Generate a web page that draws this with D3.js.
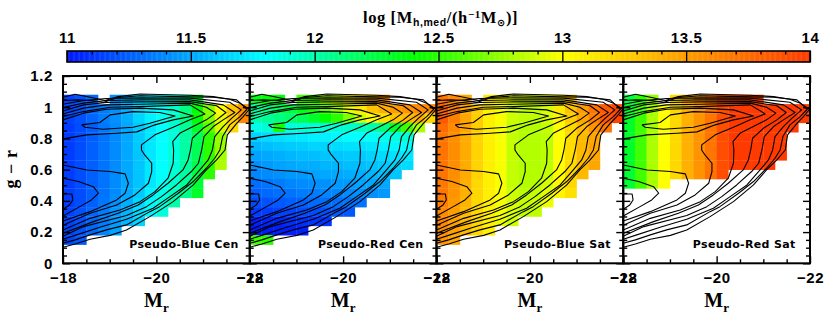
<!DOCTYPE html>
<html>
<head>
<meta charset="utf-8">
<script src="https://d3js.org/d3.v7.min.js"></script>
<style>
  html, body {margin: 0; padding: 0; background: #fff;}
  svg {display: block;}
  .tick text {font-family: "Liberation Sans", sans-serif; font-weight: bold; font-size: 15px; letter-spacing: 0.6px; fill: #000;}
</style>
</head>
<body>
<svg id="plot1" width="830" height="318"></svg>
<script>
var panelNames = ["Pseudo-Blue Cen", "Pseudo-Red Cen", "Pseudo-Blue Sat", "Pseudo-Red Sat"];

// median halo mass per bin, rows run from the top (g-r 1.02-1.08) down, columns from Mr=-18 to -22
var blueCen = [
  [11.15,11.2,11.28,null,11.42,11.52,11.65,11.75,11.82,11.92,12.05,12.3],
  [11.15,11.2,11.28,11.35,11.42,11.52,11.65,11.75,11.82,11.92,12.1,12.4,12.7,13.0,13.3,13.55],
  [11.15,11.2,11.27,11.35,11.42,11.52,11.65,11.75,11.82,11.92,12.1,12.4,12.7,12.95,13.25,13.6],
  [11.12,11.18,11.25,11.33,11.4,11.5,11.62,11.72,11.8,11.9,12.05,12.3,12.6,12.9,13.2],
  [11.12,11.18,11.25,11.32,11.4,11.5,11.62,11.72,11.8,11.88,12.02,12.2,12.5,12.75],
  [11.12,11.18,11.25,11.32,11.4,11.5,11.62,11.72,11.8,11.88,12.02,12.2,12.5,12.75],
  [11.12,11.18,11.25,11.32,11.4,11.5,11.6,11.72,11.8,11.88,12.02,12.2,12.5,12.78],
  [11.12,11.18,11.25,11.32,11.4,11.5,11.6,11.72,11.8,11.88,12.02,12.22,12.5,12.8],
  [11.12,11.18,11.25,11.32,11.4,11.5,11.6,11.72,11.8,11.9,12.02,12.25,12.5],
  [11.12,11.18,11.25,11.32,11.4,11.5,11.6,11.72,11.82,11.92,12.05,12.28],
  [11.13,11.18,11.25,11.32,11.4,11.5,11.62,11.75,11.85,11.95,12.08,12.3],
  [11.13,11.18,11.25,11.33,11.42,11.52,11.65,11.78,11.88,12.0],
  [11.15,11.2,11.27,11.35,11.44,11.55,11.68,11.78,11.88],
  [11.15,11.2,11.28,11.35,11.45,11.55,11.65],
  [11.15,11.2,11.28,11.38,11.48],
  [11.15,11.22]
];
var redCen = [
  [12.35,12.4,12.4,null,12.55,12.6,12.75,12.85,13.0,13.2,13.4,13.55],
  [12.05,12.1,12.2,12.25,12.35,12.45,12.6,12.75,12.95,13.1,13.3,13.4,13.5,13.55,13.6,13.6],
  [12.0,12.05,12.1,12.15,12.2,12.3,12.4,12.5,12.7,12.9,13.0,13.15,13.3,13.35,13.4,13.2],
  [11.85,11.9,12.45,11.88,11.9,11.9,11.9,11.9,11.92,11.95,12.0,12.1,12.3,12.55,12.8],
  [11.65,11.68,11.7,11.72,11.73,11.75,11.75,11.78,11.8,11.8,11.82,11.85,11.88,11.9],
  [11.55,11.58,11.6,11.62,11.63,11.65,11.65,11.68,11.7,11.7,11.72,11.75,11.78,11.8],
  [11.48,11.5,11.52,11.55,11.57,11.58,11.6,11.6,11.62,11.62,11.65,11.68,11.7,11.72],
  [11.42,11.45,11.48,11.5,11.52,11.52,11.55,11.55,11.58,11.58,11.6,11.62,11.65,11.68],
  [11.38,11.4,11.42,11.45,11.45,11.48,11.5,11.5,11.52,11.52,11.55,11.58,11.6],
  [11.3,11.32,11.35,11.38,11.4,11.42,11.42,11.45,11.45,11.48,11.5,11.5],
  [11.25,11.28,11.3,11.32,11.35,11.35,11.38,11.38,11.4,11.42,11.42,11.45],
  [11.18,11.2,11.22,11.25,11.25,11.28,11.3,11.3,11.32,11.32],
  [11.12,11.12,11.15,11.15,11.18,11.18,11.2,11.22,11.22],
  [11.03,11.05,11.05,11.08,11.08,11.1,11.1],
  [11.0,11.0,11.02,11.02,11.03],
  [12.55,12.5]
];
var blueSat = [
  [13.7,13.6,13.45,null,13.1,13.02,12.92,12.88,12.88,12.95,13.1,13.3],
  [13.8,13.65,13.45,13.25,13.08,12.98,12.88,12.84,12.84,12.9,13.1,13.3,13.5,13.7,13.85,13.95],
  [13.85,13.65,13.45,13.25,13.08,12.98,12.88,12.84,12.84,12.9,13.05,13.25,13.45,13.65,13.85,13.95],
  [13.75,13.6,13.45,13.25,13.08,12.98,12.86,12.82,12.82,12.86,13.02,13.2,13.35,13.55,13.7],
  [13.7,13.58,13.42,13.22,13.08,12.98,12.86,12.82,12.82,12.84,13.0,13.18,13.35,13.45],
  [13.7,13.58,13.42,13.22,13.08,12.98,12.86,12.82,12.82,12.84,13.0,13.18,13.35,13.45],
  [13.7,13.58,13.42,13.22,13.08,12.98,12.86,12.82,12.82,12.84,13.0,13.18,13.35,13.45],
  [13.7,13.58,13.42,13.22,13.08,12.98,12.86,12.82,12.82,12.84,13.0,13.18,13.35,13.45],
  [13.7,13.58,13.42,13.22,13.08,12.98,12.86,12.82,12.82,12.86,13.02,13.2,13.35],
  [13.68,13.55,13.4,13.2,13.08,12.98,12.86,12.82,12.82,12.9,13.05,13.2],
  [13.68,13.55,13.4,13.2,13.08,12.98,12.88,12.84,12.86,12.94,13.05,13.15],
  [13.65,13.52,13.38,13.2,13.08,12.98,12.9,12.86,12.88,12.96],
  [13.6,13.5,13.35,13.2,13.08,12.98,12.9,12.85,12.85],
  [13.6,13.48,13.35,13.2,13.08,12.96,12.88],
  [13.58,13.48,13.35,13.2,13.08],
  [13.55,13.45]
];
var redSat = [
  [12.25,12.5,12.75,null,13.2,13.4,13.55,13.7,13.9,14,14,14],
  [12.3,12.55,12.8,13.0,13.2,13.4,13.55,13.7,13.9,14,14,14,14,14,14,14],
  [12.3,12.55,12.8,13.0,13.2,13.4,13.55,13.7,13.9,14,14,14,14,14,14,14],
  [12.3,12.55,12.8,13.0,13.2,13.4,13.55,13.7,13.9,14,14,14,14,14,14],
  [12.3,12.55,12.8,13.0,13.2,13.4,13.55,13.7,13.9,14,14,14,14,14],
  [12.3,12.55,12.8,13.0,13.2,13.4,13.55,13.7,13.9,14,14,14,14,14],
  [12.3,12.55,12.8,13.0,13.2,13.4,13.55,13.7,13.9,14,14,14,14,14],
  [12.3,12.55,12.8,13.0,13.2,13.4,13.55,13.7,13.9,14,14,14,14],
  [12.28,12.55,12.8,13.0,13.2,13.4,13.55,13.72,13.9],
  [12.28,12.55,12.8,13.0]
];
var panelGrids = [blueCen, redCen, blueSat, redSat];

// same galaxy-density contours in all panels, [Mr, g-r]
var contours = [
  [[-18,.444],[-18.19,.444],[-18.21,.406],[-18.14,.374],[-18,.346]],
  [[-18,.545],[-18.33,.524],[-18.65,.491],[-18.76,.449],[-18.61,.406],[-18.36,.363],[-18,.303]],
  [[-18,.63],[-18.51,.598],[-19.01,.588],[-19.33,.573],[-19.40,.513],[-19.33,.449],[-19.15,.406],[-18.58,.331],[-18,.271]],
  [[-18.40,.887],[-18.79,.902],[-19.01,.951],[-19.50,.972],[-20.07,.966],[-20.40,.944],[-19.86,.897],[-19.50,.872],[-18.86,.859],[-18.47,.872],[-18.40,.887]],
  [[-18,.797],[-18.51,.823],[-19.15,.833],[-19.58,.842],[-19.97,.887],[-20.36,.919],[-20.79,.944],[-20.36,.983],[-19.65,.994],[-18.93,.987],[-18.44,.962],[-18,.919]],
  [[-18,.244],[-18.58,.321],[-19.15,.374],[-19.54,.438],[-19.83,.513],[-19.90,.588],[-19.90,.641],[-19.75,.694],[-19.68,.726],[-19.68,.759],[-19.97,.823],[-20.36,.872],[-20.72,.919],[-21.04,.957],[-20.72,1.015],[-19.65,1.004],[-19.01,1.0],[-18.44,.972],[-18,.94]],
  [[-18,.214],[-18.58,.288],[-19.22,.342],[-19.65,.395],[-19.97,.459],[-20.25,.545],[-20.36,.641],[-20.37,.726],[-20.35,.78],[-20.50,.833],[-20.86,.887],[-21.07,.919],[-21.27,.962],[-21.07,1.0],[-20.72,1.026],[-19.65,1.019],[-18.93,1.015],[-18.44,.994],[-18,.957]],
  [[-18,.192],[-18.65,.267],[-19.18,.321],[-19.61,.374],[-19.93,.438],[-20.25,.513],[-20.57,.598],[-20.68,.662],[-20.73,.726],[-20.77,.801],[-21.0,.865],[-21.29,.919],[-21.49,.966],[-21.29,1.009],[-20.72,1.036],[-19.65,1.034],[-18.93,1.03],[-18.44,1.015],[-18,.976]],
  [[-18,.173],[-18.44,.235],[-19.36,.306],[-19.79,.363],[-20.11,.427],[-20.43,.502],[-20.75,.588],[-20.90,.641],[-20.97,.726],[-21.02,.812],[-21.22,.876],[-21.43,.919],[-21.68,.966],[-21.43,1.015],[-20.72,1.047],[-19.65,1.047],[-18.93,1.043],[-18.44,1.026],[-18,.998]],
  [[-18,.154],[-18.29,.182],[-18.79,.231],[-19.36,.282],[-19.93,.353],[-20.29,.427],[-20.65,.502],[-20.93,.598],[-21.11,.662],[-21.20,.726],[-21.25,.812],[-21.43,.876],[-21.61,.929],[-21.82,.983],[-21.57,1.032],[-20.72,1.058],[-19.65,1.06],[-18.93,1.056],[-18.44,1.043],[-18,1.019]],
  [[-18,.128],[-18.26,.15],[-18.58,.182],[-18.93,.214],[-19.36,.246],[-19.86,.331],[-20.07,.363],[-20.47,.449],[-20.79,.524],[-21.07,.609],[-21.25,.673],[-21.36,.726],[-21.42,.812],[-21.57,.887],[-21.79,.94],[-21.94,.987],[-21.72,1.047],[-21.22,1.064],[-20.72,1.066],[-19.65,1.073],[-19.18,1.062],[-18.86,1.03],[-18.61,1.043],[-18.29,1.047],[-18,1.043]],
  [[-18,.103],[-18.26,.124],[-18.58,.154],[-19.01,.179],[-19.36,.214],[-19.86,.299],[-20.36,.395],[-20.79,.502],[-21.07,.598],[-21.29,.662],[-21.47,.726],[-21.52,.823],[-21.72,.897],[-21.86,.94],[-21.99,.987],[-21.79,1.026],[-21.57,1.051],[-21.22,1.068],[-20.72,1.077],[-20.07,1.081],[-19.65,1.085],[-19.18,1.068],[-18.90,1.043],[-18.61,1.062],[-18.26,1.083],[-18,1.064]]
];

var xMajor = [-18, -20, -22],
    xMinor = [-18.5, -19, -19.5, -20.5, -21, -21.5],
    yMajor = [0, 0.2, 0.4, 0.6, 0.8, 1, 1.2],
    yMinor = [0.05, 0.1, 0.15, 0.25, 0.3, 0.35, 0.45, 0.5, 0.55, 0.65, 0.7, 0.75, 0.85, 0.9, 0.95, 1.05, 1.1, 1.15],
    barMajor = [11, 11.5, 12, 12.5, 13, 13.5, 14],
    barMinor = [11.1, 11.2, 11.3, 11.4, 11.6, 11.7, 11.8, 11.9, 12.1, 12.2, 12.3, 12.4, 12.6, 12.7, 12.8, 12.9, 13.1, 13.2, 13.3, 13.4, 13.6, 13.7, 13.8, 13.9],
    colorStops = [11, 11.8, 12.4, 13, 14],
    colorValues = ["#0018ff", "#00ffff", "#00ff00", "#ffff00", "#ff3a00"];

var binM = 0.25, binG = 0.06, topG = 1.08;

var svg = d3.select("#plot1"),
    margin = {top: 76, left: 63},
    panelW = 186.75,
    panelH = 187.3;

var x = d3.scaleLinear().domain([-18, -22]).range([0, panelW]),
    y = d3.scaleLinear().domain([0, 1.2]).range([panelH, 0]),
    color = d3.scaleLinear().domain(colorStops).range(colorValues).clamp(true);

var line = d3.line().x(function(d){return x(d[0]);}).y(function(d){return y(d[1]);});

// signed labels use a real minus so they match the wide dash in the picture
function mFormat(d){ return "\u2212" + Math.abs(d); }

panelGrids.forEach(function(grid, p){
  var g = svg.append("g")
      .attr("transform", "translate(" + (margin.left + p*panelW) + "," + margin.top + ")");

  grid.forEach(function(row, r){
    g.selectAll(".cell" + r)
        .data(row.map(function(v, c){ return {v: v, c: c}; }).filter(function(d){ return d.v !== null; }))
        .enter()
        .append("rect")
        .attr("x", function(d){ return x(-18 - d.c*binM); })
        .attr("y", y(topG - r*binG))
        .attr("width", x(-18 - binM) - x(-18) + 0.3)
        .attr("height", y(0) - y(binG) + 0.3)
        .attr("fill", function(d){ return color(d.v); });
  });

  g.selectAll(".contour")
      .data(contours)
      .enter()
      .append("path")
      .attr("d", line)
      .attr("fill", "none")
      .attr("stroke", "#000")
      .attr("stroke-width", 1.1)
      .attr("stroke-linejoin", "round");

  // ticks point inwards on all four sides
  var axes = [
    {a: d3.axisBottom(x).tickValues(xMajor).tickSize(-7).tickPadding(9).tickFormat(mFormat), t: "translate(0," + panelH + ")"},
    {a: d3.axisBottom(x).tickValues(xMinor).tickSize(-4).tickFormat(""), t: "translate(0," + panelH + ")"},
    {a: d3.axisTop(x).tickValues(xMajor).tickSize(-7).tickFormat(""), t: "translate(0,0)"},
    {a: d3.axisTop(x).tickValues(xMinor).tickSize(-4).tickFormat(""), t: "translate(0,0)"},
    {a: d3.axisLeft(y).tickValues(yMajor).tickSize(-7).tickPadding(10).tickFormat(p == 0 ? function(d){ return d; } : ""), t: "translate(0,0)"},
    {a: d3.axisLeft(y).tickValues(yMinor).tickSize(-4).tickFormat(""), t: "translate(0,0)"},
    {a: d3.axisRight(y).tickValues(yMajor).tickSize(-7).tickFormat(""), t: "translate(" + panelW + ",0)"},
    {a: d3.axisRight(y).tickValues(yMinor).tickSize(-4).tickFormat(""), t: "translate(" + panelW + ",0)"}
  ];
  axes.forEach(function(d){
    var ax = g.append("g").attr("transform", d.t).call(d.a);
    ax.select(".domain").remove();
    ax.selectAll("line").attr("stroke", "#000").attr("stroke-width", 1.4);
  });

  g.append("rect")
      .attr("width", panelW)
      .attr("height", panelH)
      .attr("fill", "none")
      .attr("stroke", "#000")
      .attr("stroke-width", 2);

  g.append("text")
      .attr("x", 121)
      .attr("y", 172)
      .attr("text-anchor", "middle")
      .attr("font-family", "DejaVu Sans, sans-serif")
      .attr("font-weight", "bold")
      .attr("font-size", 11)
      .attr("letter-spacing", 0.35)
      .text(panelNames[p]);

  var mr = g.append("text")
      .attr("x", x(-20))
      .attr("y", 231)
      .attr("text-anchor", "middle")
      .attr("font-family", "Liberation Serif, serif")
      .attr("font-weight", "bold")
      .attr("font-size", 20);
  mr.append("tspan").text("M");
  mr.append("tspan").attr("font-size", 13).attr("dy", 5).text("r");
});

// y axis title
svg.append("text")
    .attr("transform", "translate(16.5,169) rotate(-90)")
    .attr("text-anchor", "middle")
    .attr("font-family", "Liberation Serif, serif")
    .attr("font-weight", "bold")
    .attr("font-size", 18)
    .attr("letter-spacing", 0.5)
    .text("g \u2212 r");

// colour bar
var barScale = d3.scaleLinear().domain([11, 14]).range([67, 810]);
var bar = svg.append("g").attr("transform", "translate(0,51)");
var barH = 11;

bar.selectAll(".swatch")
    .data(d3.range(11, 14, 0.005))
    .enter()
    .append("rect")
    .attr("x", function(d){ return barScale(d); })
    .attr("width", barScale(11.005) - barScale(11) + 0.4)
    .attr("height", barH)
    .attr("fill", function(d){ return color(d); });

var barAxes = [
  d3.axisTop(barScale).tickValues(barMajor).tickSize(-barH).tickPadding(8).tickFormat(function(d){ return d; }),
  d3.axisTop(barScale).tickValues(barMinor).tickSize(-3.5).tickFormat("")
];
barAxes.forEach(function(a){
  var ax = bar.append("g").call(a);
  ax.select(".domain").remove();
  ax.selectAll("line").attr("stroke", "#000").attr("stroke-width", 1.3);
});

bar.append("rect")
    .attr("x", 67)
    .attr("width", 743)
    .attr("height", barH)
    .attr("fill", "none")
    .attr("stroke", "#000")
    .attr("stroke-width", 1.6);

// colour bar title
var title = svg.append("text")
    .attr("x", 363)
    .attr("y", 23)
    .attr("font-family", "Liberation Serif, serif")
    .attr("font-weight", "bold")
    .attr("letter-spacing", 0.6)
    .attr("font-size", 16.5);
title.append("tspan").text("log [M");
title.append("tspan").attr("font-size", 10.5).attr("dy", 3).attr("font-family", "Liberation Sans, sans-serif").text("h,med");
title.append("tspan").attr("dy", -3).text("/(h");
title.append("tspan").attr("font-size", 11).attr("dy", -5).text("\u22121");
title.append("tspan").attr("dy", 5).text("M");
title.append("tspan").attr("font-size", 10).attr("dy", 3).attr("font-family", "DejaVu Sans, sans-serif").text("\u2299");
title.append("tspan").attr("dy", -3).text(")]");
</script>
</body>
</html>
